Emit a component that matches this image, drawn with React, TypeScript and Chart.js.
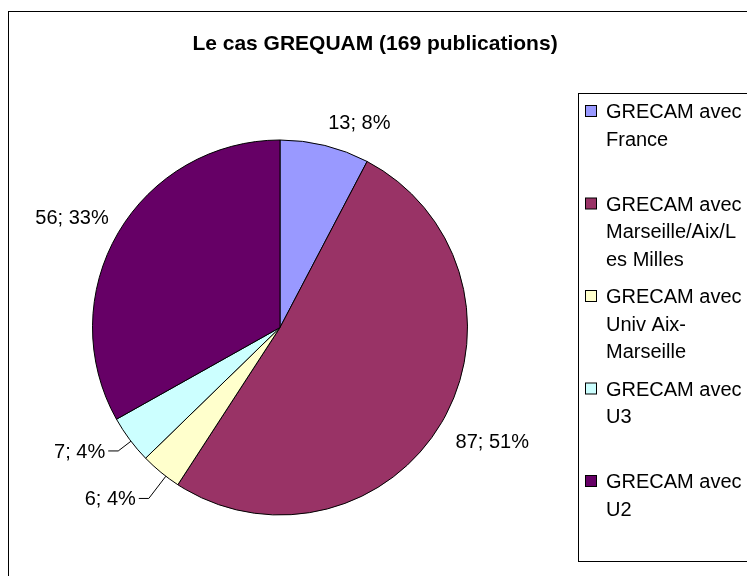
import React, { useEffect, useRef } from "react";
import { Chart, registerables } from "chart.js";

Chart.register(...registerables);

const chartTitle = "Le cas GREQUAM (169 publications)";
const categories = [
  "GRECAM avec France",
  "GRECAM avec Marseille/Aix/Les Milles",
  "GRECAM avec Univ Aix-Marseille",
  "GRECAM avec U3",
  "GRECAM avec U2",
];
const legendLines = [
  ["GRECAM avec", "France"],
  ["GRECAM avec", "Marseille/Aix/L", "es Milles"],
  ["GRECAM avec", "Univ Aix-", "Marseille"],
  ["GRECAM avec", "U3"],
  ["GRECAM avec", "U2"],
];
const publications = [13, 87, 6, 7, 56];
const sliceColors = ["#9999FF", "#993366", "#FFFFCC", "#CCFFFF", "#660066"];

// label placement (layout only): gap from rim, leader-line length, angular shift in degrees
const labelLayout = [
  { gap: 14, leader: 0, shift: 0 },
  { gap: 16, leader: 0, shift: 0 },
  { gap: 0, leader: 28, shift: -1.9 },
  { gap: 0, leader: 16, shift: -0.6 },
  { gap: 11, leader: 0, shift: 0 },
];

const FONT = '"Liberation Sans", Arial, Helvetica, sans-serif';

const decorPlugin = {
  id: "decor",
  beforeDraw(chart: any) {
    const ctx = chart.ctx;
    ctx.save();
    ctx.fillStyle = "#ffffff";
    ctx.fillRect(0, 0, chart.width, chart.height);
    ctx.strokeStyle = "#000000";
    ctx.lineWidth = 1;
    ctx.strokeRect(8.5, 11.5, 900, 700);
    ctx.restore();
  },
  afterDraw(chart: any) {
    const ctx = chart.ctx;
    ctx.save();
    // title
    ctx.fillStyle = "#000000";
    ctx.font = "bold 21px " + FONT;
    ctx.textAlign = "center";
    ctx.textBaseline = "alphabetic";
    ctx.fillText(chartTitle, 375, 50);

    // legend box
    ctx.strokeStyle = "#000000";
    ctx.lineWidth = 1;
    ctx.strokeRect(578.5, 93.5, 400, 468);
    ctx.font = "20px " + FONT;
    ctx.textAlign = "left";
    legendLines.forEach((lines, i) => {
      const base = 118 + 92.5 * i;
      ctx.fillStyle = sliceColors[i];
      ctx.fillRect(585.5, base - 12.5, 11, 11);
      ctx.strokeStyle = "#000000";
      ctx.strokeRect(585.5, base - 12.5, 11, 11);
      ctx.fillStyle = "#000000";
      lines.forEach((ln, j) => {
        ctx.fillText(ln, 606, base + 27.5 * j);
      });
    });
    ctx.restore();
  },
  afterDatasetsDraw(chart: any) {
    const ctx = chart.ctx;
    const meta = chart.getDatasetMeta(0);
    const values = chart.data.datasets[0].data as number[];
    const total = values.reduce((a, b) => a + b, 0);
    ctx.save();
    ctx.font = "20px " + FONT;
    ctx.fillStyle = "#000000";
    ctx.strokeStyle = "#000000";
    ctx.lineWidth = 1;
    meta.data.forEach((arc: any, i: number) => {
      const p = arc.getProps(["x", "y", "startAngle", "endAngle", "outerRadius"], true);
      const lay = labelLayout[i];
      const mid = (p.startAngle + p.endAngle) / 2 + (lay.shift * Math.PI) / 180;
      const dx = Math.cos(mid);
      const dy = Math.sin(mid);
      const text = `${values[i]}; ${Math.round((values[i] / total) * 100)}%`;
      if (lay.leader > 0) {
        const sx = p.x + p.outerRadius * dx;
        const sy = p.y + p.outerRadius * dy;
        const ex = p.x + (p.outerRadius + lay.leader) * dx;
        const ey = p.y + (p.outerRadius + lay.leader) * dy;
        const dir = dx >= 0 ? 1 : -1;
        const hx = ex + dir * 10;
        ctx.beginPath();
        ctx.moveTo(sx, sy);
        ctx.lineTo(ex, ey);
        ctx.lineTo(hx, ey);
        ctx.stroke();
        ctx.textAlign = dir > 0 ? "left" : "right";
        ctx.textBaseline = "alphabetic";
        ctx.fillText(text, hx + dir * 3, ey + 7);
      } else {
        const cx = p.x + (p.outerRadius + lay.gap) * dx;
        const cy = p.y + (p.outerRadius + lay.gap) * dy;
        ctx.textAlign = dx >= 0 ? "left" : "right";
        ctx.textBaseline = "alphabetic";
        const base = dy < 0 ? cy - 3 : cy + 18;
        ctx.fillText(text, cx, base);
      }
    });
    ctx.restore();
  },
};

export default function App() {
  const canvasRef = useRef<HTMLCanvasElement | null>(null);

  useEffect(() => {
    if (!canvasRef.current) return;
    const chart = new Chart(canvasRef.current, {
      type: "pie",
      data: {
        labels: categories,
        datasets: [
          {
            data: publications,
            backgroundColor: sliceColors,
            borderColor: "#000000",
            borderWidth: 1,
            hoverOffset: 0,
          },
        ],
      },
      options: {
        responsive: false,
        animation: false,
        radius: 187.5,
        layout: { padding: { left: 0, right: 187, top: 140, bottom: 61 } },
        plugins: {
          legend: { display: false },
          title: { display: false },
          tooltip: { enabled: false },
        },
        events: [],
      } as any,
      plugins: [decorPlugin],
    });
    return () => chart.destroy();
  }, []);

  return (
    <div style={{ position: "absolute", left: 0, top: 0, width: 747, height: 576 }}>
      <canvas ref={canvasRef} width={747} height={576} />
    </div>
  );
}
